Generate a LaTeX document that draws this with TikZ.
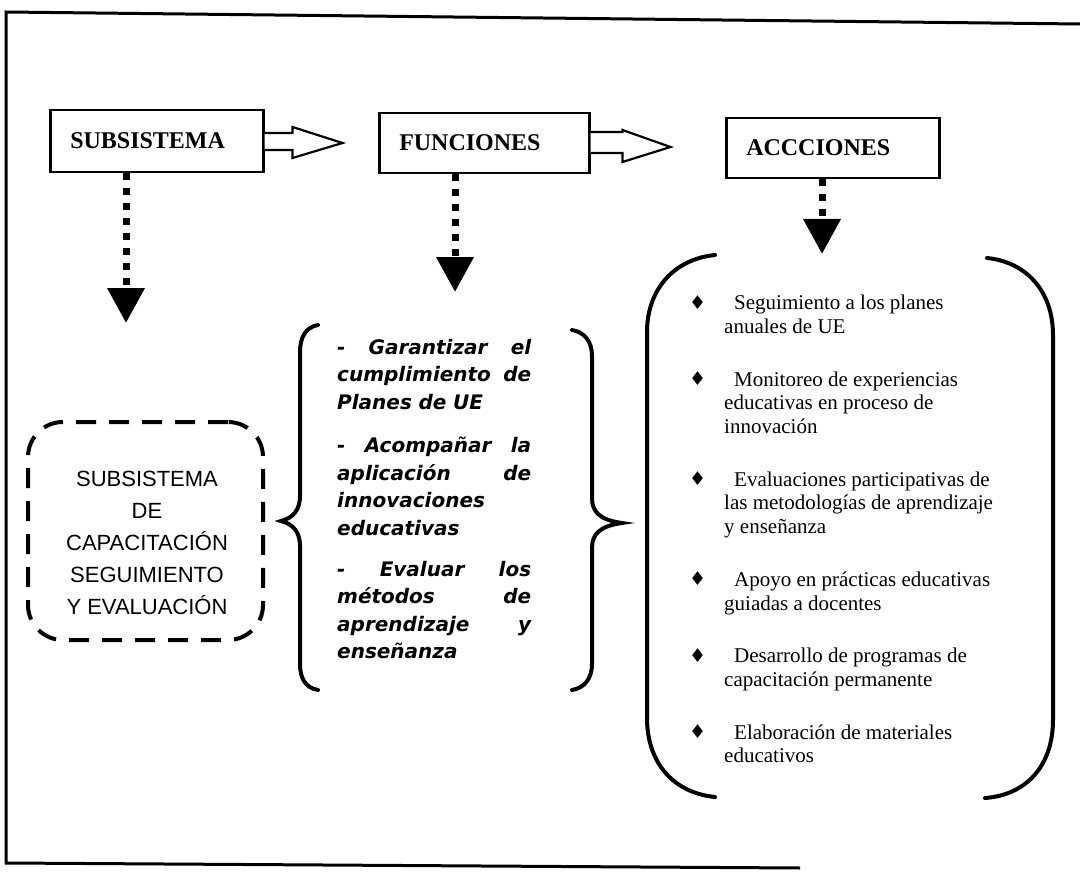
\documentclass[tikz,border=0pt]{standalone}
\usepackage{fontspec}
\setmainfont{Liberation Serif}
\newfontfamily\arialfam{Liberation Sans}
\newfontfamily\verdfam{DejaVu Sans}
\usetikzlibrary{arrows.meta}
% a justified line: words spread over the full column width
\newcommand\jline[1]{\makebox[194pt][l]{#1}}
\newcommand\bul{\makebox[45pt][l]{\raisebox{0.5pt}{\verdfam\fontsize{19}{19}\selectfont ♦}}}
\begin{document}
\begin{tikzpicture}[x=1pt,y=-1pt,
  frame/.style={line width=3pt},
  titlebox/.style={draw, line width=2.5pt, anchor=west, inner xsep=20pt, inner ysep=0pt,
    align=left, font=\fontsize{24}{28}\selectfont\bfseries},
  blockarrow/.style={draw, fill=white, line width=2.2pt, line join=miter},
  dotline/.style={line width=7pt, dash pattern=on 7pt off 8pt,
    -{Triangle[length=35pt,width=36pt]}},
  bracestroke/.style={line width=4pt, line cap=round},
  dashbox/.style={draw, line width=4pt, dash pattern=on 20pt off 13pt,
    rounded corners=35pt, minimum width=235pt, minimum height=218pt},
  functext/.style={anchor=north west, inner sep=0pt, text width=194pt, align=left,
    font=\verdfam\bfseries\itshape\fontsize{20}{27.6}\selectfont},
  listtext/.style={anchor=north west, inner sep=0pt, align=left,
    font=\fontsize{21}{23.7}\selectfont}
]
\useasboundingbox (0,0) rectangle (1080,872);

% outer frame
\coordinate (f1) at (6,12);
\coordinate (f2) at (1080,24);
\coordinate (f3) at (6,863);
\coordinate (f4) at (800,868);
\draw[frame] (f2) -- (f1) -- (f3) -- (f4);

% header boxes
\node[titlebox, text width=173pt, minimum height=62pt] (sub) at (49,141) {SUBSISTEMA};
\node[titlebox, text width=170pt, minimum height=60pt] (fun) at (378,143) {FUNCIONES};
\node[titlebox, text width=173pt, minimum height=60pt] (acc) at (725,148) {ACCCIONES};

% hollow block arrows between the headers
\draw[blockarrow] ([yshift=8pt]sub.east) -- ++(28,0) -- ++(0,-6) -- ++(50,16)
  -- ++(-50,15) -- ++(0,-8) -- ([yshift=-9pt]sub.east);
\draw[blockarrow] ([yshift=11pt]fun.east) -- ++(32,0) -- ++(0,-2) -- ++(48,17)
  -- ++(-48,15) -- ++(0,-9) -- ([yshift=-10pt]fun.east);

% dotted arrows down from the headers
\coordinate (t1) at (126,323);
\coordinate (t2) at (455,292);
\coordinate (t3) at (822,254);
\draw[dotline] (sub.south -| t1) -- (t1);
\draw[dotline] (fun.south -| t2) -- (t2);
\draw[dotline] (acc.south -| t3) -- (t3);

% dashed subsystem box
\node[dashbox] (dbox) at (145.5,531) {};
\node[font=\arialfam\fontsize{22}{32}\selectfont, align=center] (dtext) at (147,543)
  {SUBSISTEMA\\DE\\CAPACITACIÓN\\SEGUIMIENTO\\Y EVALUACIÓN};

% curly braces around the functions
\draw[bracestroke] (318,325) .. controls (306,327) and (300,337) .. (300,352)
  -- (300,496) .. controls (300,510) and (293,518) .. (281,521)
  .. controls (293,524) and (300,532) .. (300,546)
  -- (300,664) .. controls (300,679) and (306,688) .. (318,690);
\draw[bracestroke] (572,330) .. controls (584,332) and (592,341) .. (592,356)
  -- (592,498) .. controls (592,512) and (600,520) .. (622,523)
  .. controls (600,526) and (592,534) .. (592,548)
  -- (592,664) .. controls (592,679) and (584,688) .. (572,690);

\node[functext] (ftext) at (337,339) {%
  \jline{-\hfill Garantizar\hfill el}\\
  \jline{cumplimiento\hfill de}\\
  Planes de UE\\[15.5pt]
  \jline{-\hfill Acompañar\hfill la}\\
  \jline{aplicación\hfill de}\\
  innovaciones\\
  educativas\\[13pt]
  \jline{-\hfill Evaluar\hfill los}\\
  \jline{métodos\hfill de}\\
  \jline{aprendizaje\hfill y}\\
  enseñanza};

% rounded bracket around the actions
\draw[bracestroke] (715,255) .. controls (675,259) and (648,288) .. (647,330)
  -- (647,720) .. controls (648,765) and (675,793) .. (715,797);
\draw[bracestroke] (987,258) .. controls (1027,262) and (1053,292) .. (1053,335)
  -- (1053,720) .. controls (1053,765) and (1027,795) .. (985,798);

\node[listtext] (atext) at (689,295) {%
  \bul Seguimiento a los planes\\
  \hspace*{35pt}anuales de UE\\[29pt]
  \bul Monitoreo de experiencias\\
  \hspace*{35pt}educativas en proceso de\\
  \hspace*{35pt}innovación\\[29pt]
  \bul Evaluaciones participativas de\\
  \hspace*{35pt}las metodologías de aprendizaje\\
  \hspace*{35pt}y enseñanza\\[29pt]
  \bul Apoyo en prácticas educativas\\
  \hspace*{35pt}guiadas a docentes\\[29pt]
  \bul Desarrollo de programas de\\
  \hspace*{35pt}capacitación permanente\\[29pt]
  \bul Elaboración de materiales\\
  \hspace*{35pt}educativos};
\end{tikzpicture}
\end{document}
